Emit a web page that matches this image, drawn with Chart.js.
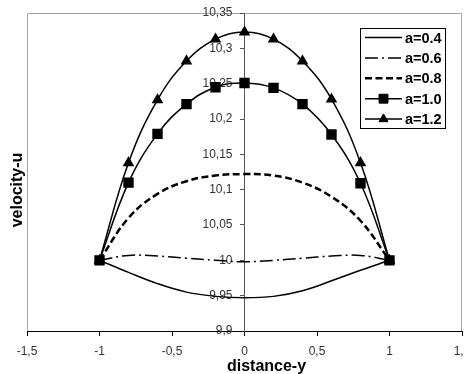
<!DOCTYPE html>
<html lang="en">
<head>
    <meta charset="UTF-8">
    <title>Velocity profile</title>
    <script src="https://cdn.jsdelivr.net/npm/chart.js"></script>
    <style>
        html, body { margin: 0; padding: 0; background: #fff; overflow: hidden; }
    </style>
</head>
<body>
<canvas id="velChart" width="464" height="374"></canvas>

<script>
    const distY = [-1, -0.8, -0.6, -0.4, -0.2, 0, 0.2, 0.4, 0.6, 0.8, 1];

    // velocity-u for each a
    const u04 = [10, 9.983, 9.967, 9.955, 9.949, 9.947, 9.949, 9.957, 9.971, 9.986, 10];
    const u06 = [10, 10.007, 10.006, 10.003, 10.000, 9.998, 10.000, 10.003, 10.006, 10.007, 10];
    const u08 = [10, 10.06, 10.094, 10.112, 10.12, 10.122, 10.12, 10.11, 10.09, 10.056, 10];
    const u10 = [10, 10.11, 10.179, 10.221, 10.245, 10.251, 10.244, 10.221, 10.178, 10.109, 10];
    const u12 = [10, 10.138, 10.227, 10.282, 10.313, 10.323, 10.313, 10.282, 10.228, 10.138, 10];

    const seriesLabels = ['a=0.4', 'a=0.6', 'a=0.8', 'a=1.0', 'a=1.2'];

    const xTicks = [-1.5, -1, -0.5, 0, 0.5, 1, 1.5];
    const yTicks = [9.9, 9.95, 10, 10.05, 10.1, 10.15, 10.2, 10.25, 10.3, 10.35];

    const FONT = '"Liberation Sans", Arial, sans-serif';
    Chart.defaults.font.family = FONT;
    Chart.defaults.color = '#000';

    const pts = ys => distY.map((x, i) => ({x: x, y: ys[i]}));
    const comma = v => String(Math.round(v * 100) / 100).replace('.', ',');

    const base = {
        showLine: true,
        borderColor: '#000',
        backgroundColor: '#000',
        pointBackgroundColor: '#000',
        pointBorderColor: '#000',
        borderWidth: 1.5,
        tension: 0.4,
        pointRadius: 0,
        pointHoverRadius: 0
    };

    const frame = {
        id: 'frame',
        beforeDraw(chart) {
            const {ctx, chartArea: a} = chart;
            ctx.save();
            ctx.fillStyle = '#fff';
            ctx.fillRect(0, 0, chart.width, chart.height);
            ctx.strokeStyle = '#a6a6a6';
            ctx.lineWidth = 1;
            ctx.beginPath();
            ctx.moveTo(a.left + 0.5, a.bottom);
            ctx.lineTo(a.left + 0.5, a.top + 0.5);
            ctx.lineTo(a.right - 0.5, a.top + 0.5);
            ctx.lineTo(a.right - 0.5, a.bottom);
            ctx.stroke();
            ctx.restore();
        },
        afterDraw(chart) {
            const ctx = chart.ctx;
            ctx.save();
            // legend box
            ctx.fillStyle = '#fff';
            ctx.fillRect(360, 28, 85, 100);
            ctx.strokeStyle = '#000';
            ctx.lineWidth = 1;
            ctx.strokeRect(360.5, 28.5, 85, 100);
            chart.data.datasets.forEach((ds, i) => {
                const y = 37.5 + i * 20.4;
                ctx.strokeStyle = '#000';
                ctx.lineWidth = ds.borderWidth;
                ctx.setLineDash(ds.borderDash || []);
                ctx.beginPath();
                ctx.moveTo(365, y);
                ctx.lineTo(402, y);
                ctx.stroke();
                ctx.setLineDash([]);
                if (ds.pointRadius > 0) {
                    ctx.fillStyle = '#000';
                    ctx.lineWidth = 1;
                    Chart.helpers.drawPoint(ctx, {pointStyle: ds.pointStyle, radius: ds.pointRadius, borderWidth: 1, rotation: 0}, 383.5, y);
                }
                ctx.fillStyle = '#000';
                ctx.font = 'bold 14.5px ' + FONT;
                ctx.textAlign = 'left';
                ctx.textBaseline = 'middle';
                ctx.fillText(ds.label, 405, y + 1);
            });
            // axis titles
            ctx.font = 'bold 16px ' + FONT;
            ctx.fillStyle = '#000';
            ctx.textAlign = 'center';
            ctx.textBaseline = 'alphabetic';
            ctx.fillText('distance-y', 266.5, 371);
            ctx.translate(22, 190);
            ctx.rotate(-Math.PI / 2);
            ctx.fillText('velocity-u', 0, 0);
            ctx.restore();
        }
    };

    const ctx = document.getElementById('velChart').getContext('2d');
    new Chart(ctx, {
        type: 'scatter',
        data: {
            datasets: [
                Object.assign({}, base, {label: seriesLabels[0], data: pts(u04)}),
                Object.assign({}, base, {label: seriesLabels[1], data: pts(u06), borderDash: [13, 4, 2, 4]}),
                Object.assign({}, base, {label: seriesLabels[2], data: pts(u08), borderDash: [7, 3.5], borderWidth: 2.5}),
                Object.assign({}, base, {label: seriesLabels[3], data: pts(u10), pointStyle: 'rect', pointRadius: 6.3}),
                Object.assign({}, base, {label: seriesLabels[4], data: pts(u12), pointStyle: 'triangle', pointRadius: 5.2})
            ]
        },
        options: {
            responsive: false,
            animation: false,
            events: [],
            layout: {autoPadding: false, padding: {left: 27, right: 2, top: 13, bottom: 0}},
            plugins: {legend: {display: false}, tooltip: {enabled: false}},
            scales: {
                x: {
                    type: 'linear',
                    position: 'bottom',
                    min: -1.5,
                    max: 1.5,
                    afterBuildTicks: s => { s.ticks = xTicks.map(v => ({value: v})); },
                    afterFit: s => { s.height = 43; s.paddingLeft = 0; s.paddingRight = 0; },
                    grid: {drawOnChartArea: false, drawTicks: true, tickLength: 5, color: '#000'},
                    border: {color: '#000', width: 1},
                    ticks: {padding: 8, font: {size: 12}, color: '#333', maxRotation: 0, callback: v => comma(v)}
                },
                y: {
                    type: 'linear',
                    position: {x: 0},
                    min: 9.9,
                    max: 10.35,
                    afterBuildTicks: s => { s.ticks = yTicks.map(v => ({value: v})); },
                    afterFit: s => { s.paddingTop = 0; s.paddingBottom = 0; },
                    grid: {drawOnChartArea: false, drawTicks: true, tickLength: 4, color: '#555'},
                    border: {color: '#555', width: 1},
                    // labels sit right against the axis line, so pad them with two en spaces
                    ticks: {font: {size: 12}, color: '#333', callback: v => comma(v) + '\u2002\u2002'}
                }
            }
        },
        plugins: [frame]
    });
</script>
</body>
</html>
